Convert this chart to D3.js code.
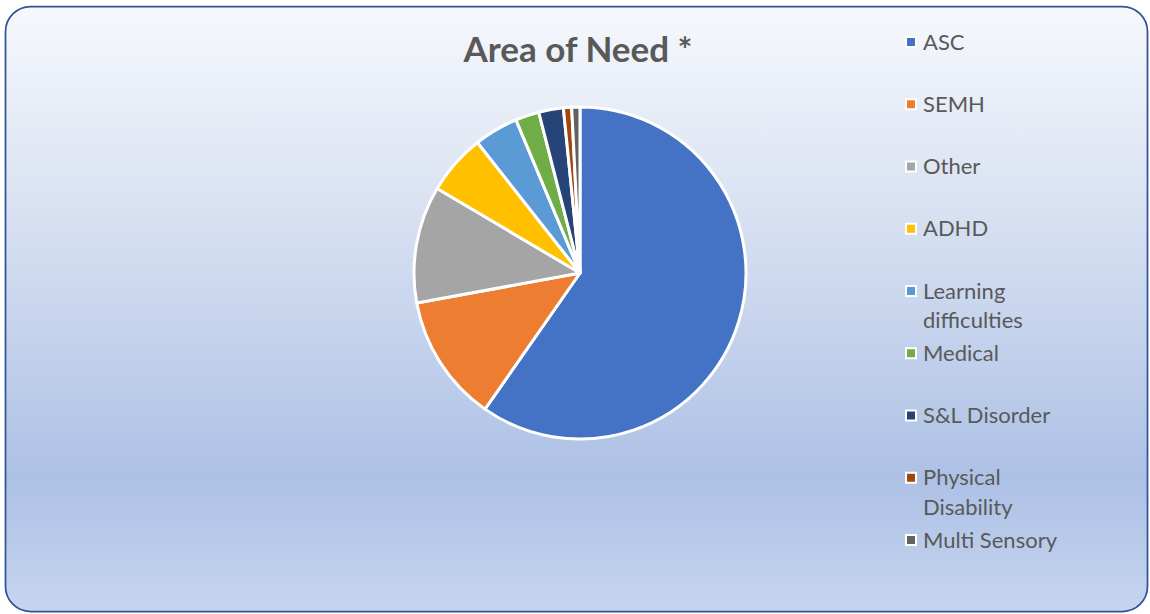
<!DOCTYPE html>
<html>
<head>
<meta charset="utf-8">
<script src="https://cdn.jsdelivr.net/npm/d3@7"></script>
<style>
  html, body { margin: 0; padding: 0; background: #ffffff; }
  svg { display: block; }
</style>
</head>
<body>
<svg id="chart"></svg>
<script>
var w = 1150;
var h = 614;

// data (share of pupils, %)
var categories = ["ASC", "SEMH", "Other", "ADHD", "Learning difficulties", "Medical", "S&L Disorder", "Physical Disability", "Multi Sensory"];
var values = [59.7, 12.4, 11.4, 5.9, 4.3, 2.3, 2.4, 0.8, 0.8];
var colors = ["#4472C4", "#ED7D31", "#A5A5A5", "#FFC000", "#5B9BD5", "#70AD47", "#264478", "#9E480E", "#636363"];
// how legend labels wrap
var legendLines = [["ASC"], ["SEMH"], ["Other"], ["ADHD"], ["Learning", "difficulties"], ["Medical"], ["S&L Disorder"], ["Physical", "Disability"], ["Multi Sensory"]];

var cx = 580, cy = 273, radius = 166;

var svg = d3.select("#chart")
    .attr("width", w)
    .attr("height", h);

var defs = svg.append("defs");
var grad = defs.append("linearGradient")
    .attr("id", "bg")
    .attr("x1", 0).attr("y1", 0)
    .attr("x2", 0).attr("y2", 1);
grad.append("stop").attr("offset", "0%").attr("stop-color", "#F6F8FC");
grad.append("stop").attr("offset", "30%").attr("stop-color", "#DCE4F3");
grad.append("stop").attr("offset", "78%").attr("stop-color", "#ADC1E5");
grad.append("stop").attr("offset", "100%").attr("stop-color", "#C6D5EF");

svg.append("rect")
    .attr("x", 5.5)
    .attr("y", 6.5)
    .attr("width", 1142)
    .attr("height", 605)
    .attr("rx", 25)
    .attr("ry", 25)
    .attr("fill", "url(#bg)")
    .attr("stroke", "#2F5597")
    .attr("stroke-width", 1.75);

svg.append("text")
    .attr("x", 578)
    .attr("y", 62)
    .attr("text-anchor", "middle")
    .attr("font-family", "Lato, 'Open Sans', sans-serif")
    .attr("font-weight", "bold")
    .attr("font-size", "35px")
    .attr("fill", "#595959")
    .text("Area of Need *");

var pie = d3.pie()
    .value(function(d){ return d; })
    .sort(null);

var arc = d3.arc()
    .innerRadius(0)
    .outerRadius(radius);

var g = svg.append("g")
    .attr("transform", "translate(" + cx + "," + cy + ")");

g.selectAll("path")
    .data(pie(values))
    .enter()
    .append("path")
    .attr("d", arc)
    .attr("fill", function(d, i){ return colors[i]; })
    .attr("stroke", "#ffffff")
    .attr("stroke-width", 3)
    .attr("stroke-linejoin", "round");

// legend
var legendY = d3.scalePoint()
    .domain(d3.range(categories.length))
    .range([42, 540]);

var legend = svg.selectAll(".legend")
    .data(categories)
    .enter()
    .append("g")
    .attr("class", "legend")
    .attr("transform", function(d, i){
      return "translate(905," + legendY(i) + ")";
    });

legend.append("rect")
    .attr("x", 0)
    .attr("y", -6)
    .attr("width", 12)
    .attr("height", 12)
    .attr("fill", "#ffffff");

legend.append("rect")
    .attr("x", 2)
    .attr("y", -4)
    .attr("width", 8)
    .attr("height", 8)
    .attr("fill", function(d, i){ return colors[i]; });

legend.append("text")
    .attr("x", 18)
    .attr("y", 7.5)
    .attr("font-family", "Lato, 'Open Sans', sans-serif")
    .attr("font-size", "22px")
    .attr("fill", "#595959")
    .each(function(d, i){
      var t = d3.select(this);
      legendLines[i].forEach(function(line, j){
        t.append("tspan")
          .attr("x", 18)
          .attr("dy", j === 0 ? 0 : 29.5)
          .text(line);
      });
    });
</script>
</body>
</html>
